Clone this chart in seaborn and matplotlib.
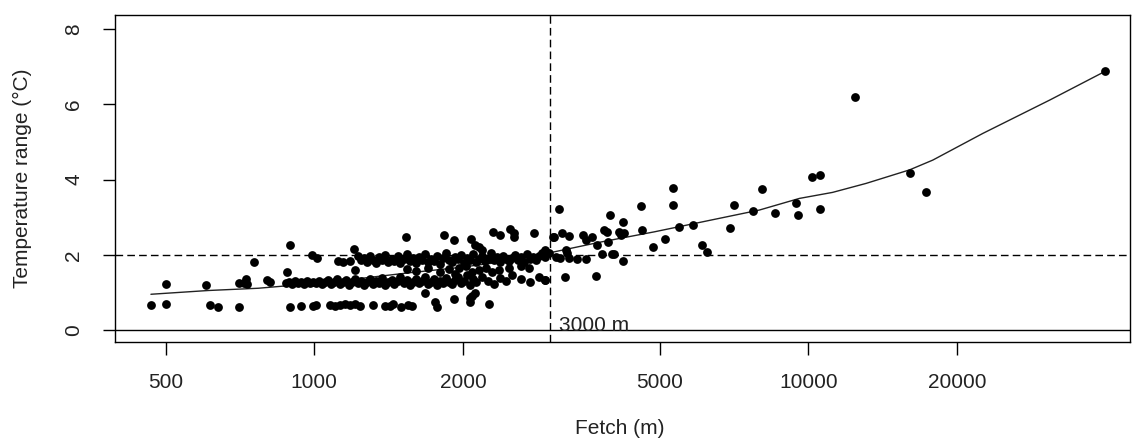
import matplotlib
matplotlib.use("Agg")
import matplotlib.pyplot as plt
import seaborn as sns
import numpy as np
import pandas as pd

# ---------------- data ----------------
# sparse low-fetch points and lower row
fetch_low = [467, 500, 500, 605, 616, 639, 703, 705, 721, 728, 730, 756, 802, 815, 881,
             893, 893, 940, 992, 1006, 991, 1013]
temp_low = [0.66, 1.22, 0.70, 1.19, 0.67, 0.60, 0.60, 1.26, 1.24, 1.36, 1.21, 1.81, 1.33, 1.28, 1.53,
            2.26, 0.60, 0.63, 0.64, 0.66, 1.99, 1.91]

fetch_bottom = [1078, 1103, 1129, 1156, 1183, 1211, 1239, 1317, 1393, 1426, 1446, 1501, 1551, 1573,
                1757, 1771, 1920, 1678, 2062, 2070, 2112, 2260, 2083]
temp_bottom = [0.66, 0.64, 0.66, 0.69, 0.66, 0.70, 0.65, 0.66, 0.63, 0.65, 0.68, 0.62, 0.67, 0.64,
               0.75, 0.62, 0.82, 0.98, 0.84, 0.74, 0.98, 0.69, 0.90]

fetch_mid = [877, 890, 902, 915, 928, 941, 954, 968, 981, 995, 1009, 1023, 1038, 1053, 1067, 1083,
             1098, 1113, 1129, 1145, 1161, 1178, 1194, 1211, 1228, 1245, 1263, 1281, 1299, 1317,
             1336, 1355, 1374, 1393, 1413, 1433, 1453, 1474, 1494, 1516, 1537, 1559, 1581, 1603,
             1626, 1649, 1672, 1696, 1720, 1744, 1769, 1794, 1819, 1845, 1871, 1898, 1925, 1952,
             1980, 2008, 2036, 2065, 2094, 2124, 2185, 2247, 2311, 2377, 2445, 2515, 2623, 2736,
             2855, 2929]
temp_mid = [1.25, 1.28, 1.22, 1.30, 1.25, 1.27, 1.22, 1.30, 1.25, 1.28, 1.24, 1.30, 1.22, 1.27,
            1.32, 1.22, 1.28, 1.35, 1.22, 1.28, 1.33, 1.20, 1.27, 1.35, 1.24, 1.30, 1.20, 1.28,
            1.36, 1.22, 1.30, 1.25, 1.38, 1.20, 1.28, 1.33, 1.22, 1.30, 1.40, 1.25, 1.32, 1.20,
            1.28, 1.36, 1.24, 1.30, 1.42, 1.22, 1.28, 1.35, 1.20, 1.30, 1.25, 1.38, 1.28, 1.22,
            1.32, 1.40, 1.25, 1.30, 1.45, 1.20, 1.35, 1.28, 1.40, 1.30, 1.22, 1.38, 1.30, 1.45,
            1.35, 1.28, 1.40, 1.33]

fetch_between = [1209, 1537, 1603, 1696, 1794, 1871, 1925, 1959, 2025, 2083, 2154, 2226, 2290,
                 2361, 2474, 2623, 2720]
temp_between = [1.60, 1.62, 1.58, 1.65, 1.55, 1.62, 1.50, 1.65, 1.70, 1.55, 1.60, 1.65, 1.55,
                1.60, 1.65, 1.70, 1.65]

fetch_upper = [1119, 1145, 1183, 1224, 1245, 1263, 1281, 1299, 1317, 1336, 1355, 1374, 1393, 1413,
               1433, 1453, 1474, 1494, 1516, 1537, 1559, 1581, 1603, 1626, 1649, 1672, 1696, 1720,
               1744, 1769, 1794, 1819, 1845, 1871, 1898, 1925, 1952, 1980, 2008, 2036, 2065, 2094,
               2124, 2154, 2185, 2216, 2247, 2279, 2311, 2344, 2377, 2411, 2445, 2480, 2515, 2550,
               2587, 2623, 2660, 2698, 2736, 2775, 2815, 2855, 2895, 2936]
temp_upper = [1.84, 1.81, 1.84, 1.97, 1.85, 1.92, 1.80, 1.98, 1.86, 1.78, 1.93, 1.85, 2.00, 1.80,
              1.90, 1.84, 1.97, 1.78, 1.88, 2.02, 1.83, 1.92, 1.78, 1.95, 1.86, 2.03, 1.80, 1.90,
              1.84, 1.98, 1.76, 1.92, 2.05, 1.86, 1.80, 1.95, 1.88, 2.00, 1.78, 1.92, 1.85, 2.02,
              1.80, 1.90, 1.96, 1.83, 1.90, 2.05, 1.86, 1.93, 1.80, 1.97, 1.88, 1.84, 1.92, 2.00,
              1.85, 1.95, 1.82, 2.02, 1.90, 1.95, 1.85, 1.98, 2.05, 1.93]

fetch_high = [1206, 1532, 1827, 1920, 2079, 2118, 2152, 2185, 2300, 2381, 2494, 2534, 2534, 2780,
              3060, 2929]
temp_high = [2.15, 2.47, 2.53, 2.39, 2.41, 2.26, 2.21, 2.13, 2.60, 2.53, 2.69, 2.57, 2.47, 2.57,
             2.48, 1.33]

fetch_right = [3125, 3960, 4580, 4218, 3175, 3275, 3044, 3502, 3542, 3649, 3739, 3855, 3917, 4140,
               4170, 4236, 4613, 3927, 2937, 2985, 3078, 3148, 3275, 3407, 3542, 3250, 3230, 3816,
               4010, 4040, 4218, 3213, 3710, 4856, 5322, 5322, 5473, 5850, 5118, 6083, 6227, 6935,
               7079, 7712, 8054, 8570, 9439, 9512, 10160, 10570, 10570, 12450, 16030, 17330, 39850]
temp_right = [3.22, 3.06, 3.30, 2.88, 2.57, 2.50, 2.47, 2.53, 2.39, 2.48, 2.26, 2.66, 2.61, 2.61,
              2.53, 2.57, 2.66, 2.35, 2.13, 2.04, 1.93, 1.91, 1.91, 1.88, 1.88, 2.06, 2.13, 2.02,
              2.02, 2.02, 1.84, 1.40, 1.44, 2.20, 3.77, 3.32, 2.75, 2.79, 2.42, 2.26, 2.08, 2.72,
              3.32, 3.16, 3.74, 3.12, 3.37, 3.06, 4.08, 4.11, 3.23, 6.21, 4.18, 3.66, 6.88]

# smoothed curve
curve_fetch = [467, 610, 770, 1005, 1257, 1552, 1959, 2361, 2915, 3767, 4874, 5818, 7955, 9590,
               11190, 13090, 16030, 17860, 22550, 30830, 39850]
curve_temp = [0.95, 1.05, 1.11, 1.24, 1.38, 1.52, 1.66, 1.80, 2.02, 2.33, 2.61, 2.82, 3.19, 3.50,
              3.66, 3.90, 4.26, 4.52, 5.23, 6.12, 6.88]

x_ticks = [500, 1000, 2000, 5000, 10000, 20000]
y_ticks = [0, 2, 4, 6, 8]
threshold_fetch = 3000
threshold_temp = 2
label_text = "3000 m"

# ---------------- build frame ----------------
fetch = fetch_low + fetch_bottom + fetch_mid + fetch_between + fetch_upper + fetch_high + fetch_right
temp = temp_low + temp_bottom + temp_mid + temp_between + temp_upper + temp_high + temp_right
df = pd.DataFrame({"fetch": fetch, "temp": temp})
curve = pd.DataFrame({"fetch": curve_fetch, "temp": curve_temp})

sns.set_style("white")
plt.rcParams["font.family"] = ["Liberation Sans", "DejaVu Sans"]

fig = plt.figure(figsize=(11.32, 4.41), dpi=100)
ax = fig.add_axes([115 / 1132, 1 - 342 / 441, (1130 - 115) / 1132, (342 - 15) / 441])

ax.axhline(0, color="black", lw=1.0, zorder=1)
ax.axhline(threshold_temp, color="black", lw=1.0, ls=(0, (5.5, 3)), zorder=1)
ax.axvline(threshold_fetch, color="black", lw=1.0, ls=(0, (5.5, 3)), zorder=1)

sns.scatterplot(data=df, x="fetch", y="temp", color="black", s=40, linewidth=0, ax=ax, zorder=3)
sns.lineplot(data=curve, x="fetch", y="temp", color="#222222", lw=1.0, sort=False,
             estimator=None, ax=ax, zorder=2)

ax.set_xscale("log")
ax.set_xlim(395, 44770)
ax.set_ylim(-0.32, 8.38)
ax.set_xticks(x_ticks)
ax.set_xticklabels([str(v) for v in x_ticks])
ax.minorticks_off()
ax.xaxis.set_minor_locator(matplotlib.ticker.NullLocator())
ax.set_yticks(y_ticks)
ax.set_yticklabels([str(v) for v in y_ticks], rotation=90, va="center")

ax.tick_params(axis="both", which="major", direction="out", length=9, width=1.0,
               color="black", labelsize=15, labelcolor="#222222")
ax.tick_params(axis="x", pad=13)
ax.tick_params(axis="y", pad=14)
ax.tick_params(left=True, bottom=True)

for sp in ax.spines.values():
    sp.set_visible(True)
    sp.set_color("black")
    sp.set_linewidth(1.0)

ax.set_xlabel("Fetch (m)", fontsize=15, color="#222222")
ax.set_ylabel("Temperature range (\u00b0C)", fontsize=15, color="#222222")
ax.yaxis.set_label_coords(-0.091, 0.5)
ax.xaxis.label.set_va("center")
ax.yaxis.label.set_va("center")
ax.xaxis.set_label_coords((620 - 115) / 1015, -0.263)

ax.text(3130, -0.02, label_text, fontsize=15, color="#222222", ha="left", va="baseline", zorder=4)

fig.savefig("out.png", dpi=100)
